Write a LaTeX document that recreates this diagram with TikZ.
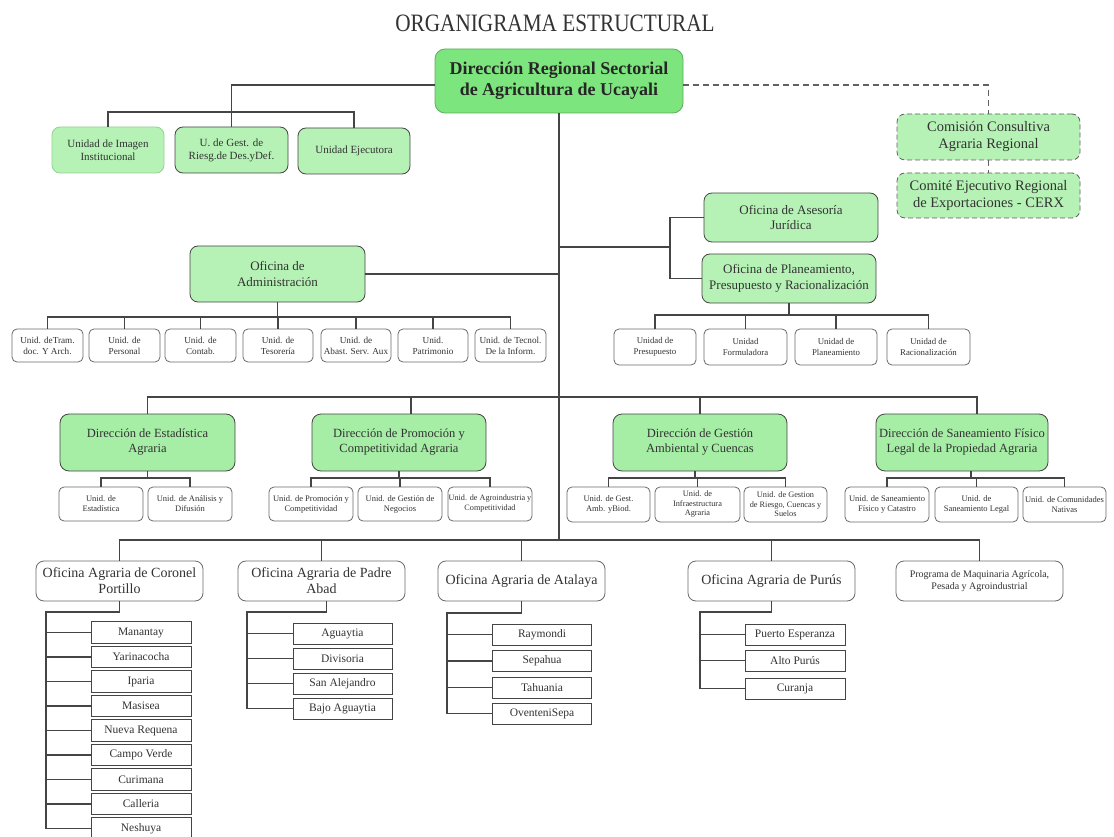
\documentclass[tikz,border=0pt]{standalone}
\usepackage{fontspec}
\setmainfont{Liberation Serif}
\usetikzlibrary{calc}
\definecolor{maing}{HTML}{7DE57D}
\definecolor{lg}{HTML}{B6F2B6}
\definecolor{dg}{HTML}{A6EDA6}
\definecolor{ln}{HTML}{454545}
\definecolor{tx}{HTML}{333333}
\newcommand\myfs[2]{\fontsize{#1}{#2}\selectfont}
\newcommand\bx[7]{\node[#1, minimum width={(#5)-(#3)}, minimum height={(#6)-(#4)}] (#2) at ({((#3)+(#5))/2},{((#4)+(#6))/2}) {#7};}
\tikzset{
  base/.style={align=center, inner sep=1.5pt, text=tx, line width=0.8pt},
  mainbox/.style={base, draw=maing!75!black, fill=maing, rounded corners=10pt, font=\myfs{18}{21}\bfseries, text=black!85},
  gbox/.style={base, draw=ln, fill=lg, rounded corners=8pt},
  dbox/.style={base, draw=ln, fill=dg, rounded corners=9pt, font=\myfs{12.5}{15}},
  cbox/.style={base, draw=ln!85, fill=lg, rounded corners=8pt, dash pattern=on 5pt off 3pt, font=\myfs{14.5}{17}},
  ubox/.style={base, draw=ln!80, fill=white, rounded corners=5pt},
  obox/.style={base, draw=ln!80, fill=white, rounded corners=8pt, font=\myfs{14}{16}},
  lbox/.style={base, draw=ln, fill=white, line width=1pt, font=\myfs{11.5}{13}},
  conn/.style={draw=ln, line width=1.2pt},
  dconn/.style={draw=ln!85, line width=1.1pt, dash pattern=on 6pt off 4pt},
}
\begin{document}
\begin{tikzpicture}[x=1pt,y=-1pt]
\useasboundingbox (0,0) rectangle (1114,837);
\fill[white] (0,0) rectangle (1114,837);
\node[text=tx] (title) at (555,23) {\scalebox{0.85}[1]{\myfs{25}{28}ORGANIGRAMA ESTRUCTURAL}};

% main
\bx{mainbox}{main}{435}{49}{683}{113}{Dirección Regional Sectorial\\de Agricultura de Ucayali}

% row 1
\bx{gbox,draw=green!40!gray!60,font=\myfs{11}{13}}{img}{52}{127}{164}{173}{Unidad de Imagen\\Institucional}
\bx{gbox,font=\myfs{11}{13}}{gest}{175}{127}{288}{173}{U. de Gest. de\\Riesg.de Des.yDef.}
\bx{gbox,font=\myfs{11}{13}}{eje}{298}{128}{410}{174}{Unidad Ejecutora}

% consultative
\bx{cbox}{com}{897}{114}{1080}{160}{Comisión Consultiva\\Agraria Regional}
\bx{cbox}{cerx}{897}{173}{1080}{218}{Comité Ejecutivo Regional\\de Exportaciones - CERX}

% advisory
\bx{gbox,font=\myfs{13}{15.5}}{ase}{704}{193}{878}{242}{Oficina de Asesoría\\Jurídica}
\bx{gbox,font=\myfs{13}{15.5}}{pla}{702}{254}{876}{303}{Oficina de Planeamiento,\\Presupuesto y Racionalización}
\bx{gbox,font=\myfs{13}{16}}{adm}{190}{246}{365}{302}{Oficina de\\Administración}

% admin units
\tikzset{au/.style={ubox,font=\myfs{9.2}{11}}}
\bx{au}{a1}{12}{329}{83}{362}{Unid. deTram.\\doc. Y Arch.}
\bx{au}{a2}{89}{329}{160}{362}{Unid. de\\Personal}
\bx{au}{a3}{165}{329}{236}{362}{Unid. de\\Contab.}
\bx{au}{a4}{243}{329}{313}{362}{Unid. de\\Tesorería}
\bx{au}{a5}{321}{329}{391}{362}{Unid. de\\Abast. Serv. Aux}
\bx{au}{a6}{398}{329}{468}{362}{Unid.\\Patrimonio}
\bx{au}{a7}{475}{329}{546}{362}{Unid. de Tecnol.\\De la Inform.}

% planning units
\tikzset{pu/.style={ubox,font=\myfs{8.8}{11}}}
\bx{pu}{p1}{614}{329}{696}{365}{Unidad de\\Presupuesto}
\bx{pu}{p2}{704}{329}{787}{365}{Unidad\\Formuladora}
\bx{pu}{p3}{795}{329}{877}{365}{Unidad de\\Planeamiento}
\bx{pu}{p4}{887}{329}{970}{365}{Unidad de\\Racionalización}

% directions
\bx{dbox}{d1}{60}{414}{235}{471}{Dirección de Estadística\\Agraria}
\bx{dbox}{d2}{312}{414}{486}{471}{Dirección de Promoción y\\Competitividad Agraria}
\bx{dbox}{d3}{613}{414}{787}{471}{Dirección de Gestión\\Ambiental y Cuencas}
\bx{dbox}{d4}{876}{414}{1048}{471}{Dirección de Saneamiento Físico\\Legal de la Propiedad Agraria}

% sub units
\tikzset{su/.style={ubox,inner sep=0.5pt,font=\myfs{8.5}{10}}}
\bx{su}{s1}{59}{487}{143}{521}{Unid. de\\Estadística}
\bx{su}{s2}{148}{487}{232}{521}{Unid. de Análisis y\\Difusión}
\bx{su}{s3}{269}{487}{353}{521}{Unid. de Promoción y\\Competitividad}
\bx{su}{s4}{358}{487}{442}{521}{Unid. de Gestión de\\Negocios}
\bx{su,font=\myfs{8.2}{10}}{s5}{448}{487}{532}{521}{Unid. de Agroindustria y\\Competitividad}
\bx{su}{s6}{567}{487}{650}{522}{Unid. de Gest.\\Amb. yBiod.}
\bx{su,font=\myfs{8.3}{9.5}}{s7}{655}{487}{740}{522}{Unid. de\\Infraestructura\\Agraria}
\bx{su,font=\myfs{8.3}{9.5}}{s8}{744}{487}{827}{522}{Unid. de Gestion\\de Riesgo, Cuencas y\\Suelos}
\bx{su}{s9}{845}{487}{929}{522}{Unid. de Saneamiento\\Físico y Catastro}
\bx{su}{s10}{935}{487}{1018}{522}{Unid. de\\Saneamiento Legal}
\bx{su}{s11}{1023}{487}{1106}{522}{Unid. de Comunidades\\Nativas}

% offices
\bx{obox}{o1}{36}{561}{203}{601}{Oficina Agraria de Coronel\\Portillo}
\bx{obox}{o2}{238}{561}{405}{601}{Oficina Agraria de Padre\\Abad}
\bx{obox}{o3}{438}{561}{605}{601}{Oficina Agraria de Atalaya}
\bx{obox}{o4}{688}{561}{855}{601}{Oficina Agraria de Purús}
\bx{obox,font=\myfs{10}{11.5}}{o5}{896}{561}{1063}{601}{Programa de Maquinaria Agrícola,\\Pesada y Agroindustrial}

% leaves
\foreach \n/\t/\c in {1/Manantay/632.5, 2/Yarinacocha/657, 3/Iparia/681.5, 4/Masisea/706, 5/Nueva Requena/730.5, 6/Campo Verde/755, 7/Curimana/779.5, 8/Calleria/804, 9/Neshuya/828.5}
  {\node[lbox, minimum width=100, minimum height=21.5] (c\n) at (141,\c) {\t};}
\foreach \n/\t/\c in {1/Aguaytia/633.5, 2/Divisoria/658.5, 3/San Alejandro/683.5, 4/Bajo Aguaytia/708.5}
  {\node[lbox, minimum width=99, minimum height=21] (pa\n) at (342.5,\c) {\t};}
\foreach \n/\t/\c in {1/Raymondi/634.5, 2/Sepahua/661, 3/Tahuania/687.5, 4/OventeniSepa/713.5}
  {\node[lbox, minimum width=99, minimum height=21] (at\n) at (542,\c) {\t};}
\foreach \n/\t/\c in {1/Puerto Esperanza/634.5, 2/Alto Purús/660.5, 3/Curanja/688.5}
  {\node[lbox, minimum width=100, minimum height=21] (pu\n) at (795,\c) {\t};}

% ---------- connectors ----------
\coordinate (r1bus) at (0,112);
\coordinate (tbus) at (0,540);
\coordinate (abus) at (0,317);
\coordinate (pbus) at (0,315);
\coordinate (dbus) at (0,397);
\coordinate (sbus) at (0,478);
\coordinate (rb) at (670,247);
\coordinate (mw) at ($(main.west)+(0,4)$);
\coordinate (me) at ($(main.east)+(0,4)$);

% trunk
\draw[conn] (main.south) -- (main.south |- tbus);
% row 1
\draw[conn] (mw) -| (gest.north);
\draw[conn] (img.north) -- (img.north |- r1bus) -- (eje.north |- r1bus) -- (eje.north);
% dashed
\draw[dconn] (me) -| (com.north);
\draw[dconn] (com.south) -- (cerx.north);
% advisory bracket
\draw[conn] (main.south |- rb) -- (rb);
\draw[conn] (ase.west) -- (ase.west -| rb) -- (pla.west -| rb) -- (pla.west);
% admin
\draw[conn] (adm.east) -- (adm.east -| main.south);
\draw[conn] (adm.south) -- (adm.south |- abus);
\draw[conn] (a1.north) -- (a1.north |- abus) -- (a7.north |- abus) -- (a7.north);
\foreach \n in {a2,a3,a4,a5,a6} {\draw[conn] (\n.north) -- (\n.north |- abus);}
% planning
\draw[conn] (pla.south) -- (pla.south |- pbus);
\draw[conn] (p1.north) -- (p1.north |- pbus) -- (p4.north |- pbus) -- (p4.north);
\foreach \n in {p2,p3} {\draw[conn] (\n.north) -- (\n.north |- pbus);}
% directions
\coordinate (d2t) at ($(d2.north)+(12,0)$);
\coordinate (d4t) at ($(d4.north)+(15,0)$);
\draw[conn] (d1.north) -- (d1.north |- dbus) -- (d4t |- dbus) -- (d4t);
\draw[conn] (d2t |- dbus) -- (d2t);
\draw[conn] (d3.north |- dbus) -- (d3.north);
% sub units
\draw[conn] (d1.south) -- (d1.south |- sbus);
\draw[conn] (s1.north) -- (s1.north |- sbus) -- (s2.north |- sbus) -- (s2.north);
\draw[conn] (d2.south) -- (d2.south |- sbus);
\draw[conn] (s3.north) -- (s3.north |- sbus) -- (s5.north |- sbus) -- (s5.north);
\draw[conn] (s4.north) -- (s4.north |- sbus);
\coordinate (d3b) at ($(d3.south)+(-5,0)$);
\draw[conn] (d3b) -- (d3b |- sbus);
\draw[conn] (s6.north) -- (s6.north |- sbus) -- (s8.north |- sbus) -- (s8.north);
\draw[conn] (s7.north) -- (s7.north |- sbus);
\coordinate (d4b) at ($(d4.south)+(9,0)$);
\draw[conn] (d4b) -- (d4b |- sbus);
\draw[conn] (s9.north) -- (s9.north |- sbus) -- (s11.north |- sbus) -- (s11.north);
\draw[conn] (s10.north) -- (s10.north |- sbus);
% offices
\draw[conn] (o1.north) -- (o1.north |- tbus) -- (o5.north |- tbus) -- (o5.north);
\foreach \n in {o2,o3,o4} {\draw[conn] (\n.north |- tbus) -- (\n.north);}
% leaves
\coordinate (cpv) at (46,612);
\draw[conn] (o1.south) -- (o1.south |- cpv) -- (cpv) -- (cpv |- c9.west) -- (c9.west);
\foreach \n in {1,...,8} {\draw[conn] (cpv |- c\n.west) -- (c\n.west);}
\coordinate (pav) at (247,612);
\coordinate (o2b) at ($(o2.south)+(5,0)$);
\draw[conn] (o2b) -- (o2b |- pav) -- (pav) -- (pav |- pa4.west) -- (pa4.west);
\foreach \n in {1,2,3} {\draw[conn] (pav |- pa\n.west) -- (pa\n.west);}
\coordinate (atv) at (447,613);
\draw[conn] (o3.south) -- (o3.south |- atv) -- (atv) -- (atv |- at4.west) -- (at4.west);
\foreach \n in {1,2,3} {\draw[conn] (atv |- at\n.west) -- (at\n.west);}
\coordinate (puv) at (700,612);
\draw[conn] (o4.south) -- (o4.south |- puv) -- (puv) -- (puv |- pu3.west) -- (pu3.west);
\foreach \n in {1,2} {\draw[conn] (puv |- pu\n.west) -- (pu\n.west);}
\end{tikzpicture}
\end{document}
